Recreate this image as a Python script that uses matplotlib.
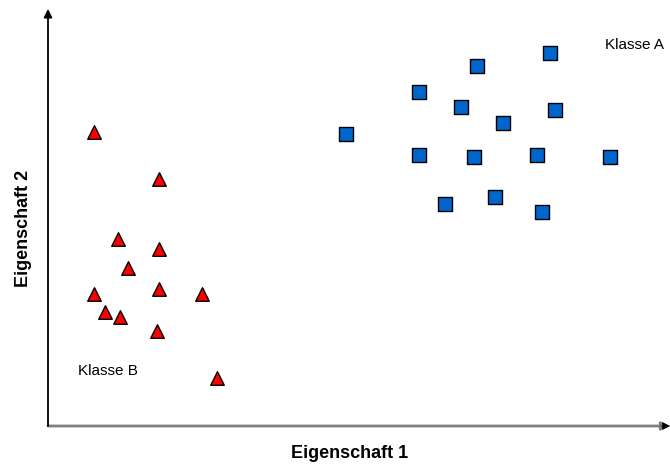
import matplotlib.pyplot as plt

plt.rcParams['font.family'] = ['Liberation Sans', 'DejaVu Sans']

# class A (squares) - feature 1 / feature 2
klasse_a_x = [502, 429, 371, 413, 507, 455, 298, 371, 426, 489, 562, 397, 447, 494]
klasse_a_y = [373, 360, 334, 319, 316, 303, 292, 271, 269, 271, 269, 222, 229, 214]

# class B (triangles)
klasse_b_x = [46, 111, 70, 111, 80, 111, 46, 154, 57, 72, 109, 169]
klasse_b_y = [294, 247, 187, 177, 158, 137, 132, 132, 114, 109, 95, 48]

fig = plt.figure(figsize=(6.7, 4.65), dpi=100)
ax = fig.add_axes([48 / 670, 39 / 465, 622 / 670, 426 / 465])
ax.set_xlim(0, 622)
ax.set_ylim(0, 426)
for s in ax.spines.values():
    s.set_visible(False)
ax.set_xticks([])
ax.set_yticks([])
ax.patch.set_alpha(0)

# axes with arrows
ax.annotate('', xy=(1.0, 0), xytext=(0, 0), xycoords='axes fraction',
            arrowprops=dict(arrowstyle='-|>', color='#808080', lw=2,
                            mutation_scale=12, shrinkA=0, shrinkB=0))
ax.annotate('', xy=(1.0, 0), xytext=(0.985, 0), xycoords='axes fraction',
            arrowprops=dict(arrowstyle='-|>', color='black', lw=0.5,
                            mutation_scale=12, shrinkA=0, shrinkB=0))
ax.annotate('', xy=(0, 0.979), xytext=(0, 0), xycoords='axes fraction',
            arrowprops=dict(arrowstyle='-|>', color='black', lw=1.3,
                            mutation_scale=12, shrinkA=0, shrinkB=0))

ax.scatter(klasse_a_x, klasse_a_y, marker='s', s=88, color='#0066CC',
           edgecolors='black', linewidths=1, zorder=3, clip_on=False)
ax.scatter(klasse_b_x, klasse_b_y, marker='^', s=95, color='#FF0000',
           edgecolors='black', linewidths=1, zorder=3, clip_on=False)

ax.text(557, 381, 'Klasse A', fontsize=11, va='center', ha='left')
ax.text(30, 55, 'Klasse B', fontsize=11, va='center', ha='left')

fig.text(350 / 670, 1 - 453 / 465, 'Eigenschaft 1', fontsize=13,
         fontweight='bold', ha='center', va='center')
fig.text(24 / 670, 1 - 228 / 465, 'Eigenschaft 2', fontsize=13,
         fontweight='bold', ha='center', va='center', rotation=90)

fig.savefig('out.png', dpi=100)
